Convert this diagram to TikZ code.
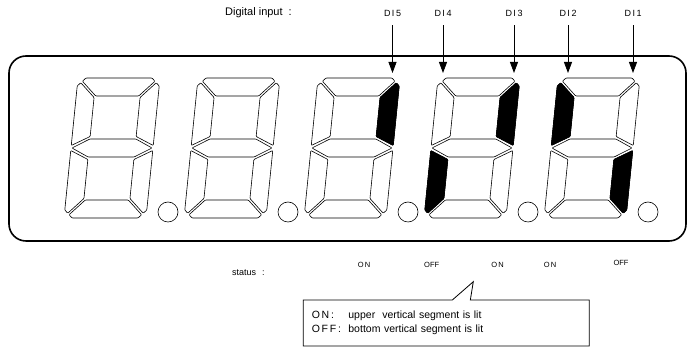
\documentclass[tikz,border=0pt]{standalone}
\usepackage{fontspec}
\setmainfont{Liberation Sans}
\usetikzlibrary{arrows.meta}
\usetikzlibrary{shapes.callouts}
\tikzset{
  segmento/.style={draw, line width=0.6pt, rounded corners=0.8pt, fill=white},
  encendido/.style={fill=black},
  punto/.style={circle, draw, line width=0.6pt, minimum size=20pt, inner sep=0pt},
  marco/.style={draw, line width=1.6pt, rounded corners=17pt},
  flecha/.style={-{Triangle[length=11pt,width=8pt]}, line width=0.8pt, shorten <=9pt},
  etiqueta/.style={font=\fontsize{9}{10}\selectfont, inner sep=0pt},
  estado/.style={font=\fontsize{7.5}{9}\selectfont, inner sep=0pt},
  texto/.style={font=\fontsize{11}{13}\selectfont, inner sep=0pt},
  nota/.style={
    rectangle callout, draw, line width=0.8pt, fill=white,
    minimum width=286pt, minimum height=46pt, text width=269pt, inner xsep=8.5pt,
    align=left, callout pointer width=18pt, font=\fontsize{10.5}{14}\selectfont
  }
}
\newcommand{\segA}[1]{\draw[segmento,#1] (8,140) -- (74,140) -- (77.25,136.75) -- (62.5,122) -- (19.5,122) -- (4.75,136.75) -- cycle;}
\newcommand{\segB}[1]{\draw[segmento,#1] (82,132) -- (78.75,135.25) -- (64,120.5) -- (64,81.5) -- (82,72.5) -- cycle;}
\newcommand{\segC}[1]{\draw[segmento,#1] (82,8) -- (78.75,4.75) -- (64,19.5) -- (64,58.5) -- (82,67.5) -- cycle;}
\newcommand{\segD}[1]{\draw[segmento,#1] (8,0) -- (74,0) -- (77.25,3.25) -- (62.5,18) -- (19.5,18) -- (4.75,3.25) -- cycle;}
\newcommand{\segE}[1]{\draw[segmento,#1] (0,8) -- (3.25,4.75) -- (18,19.5) -- (18,58.5) -- (0,67.5) -- cycle;}
\newcommand{\segF}[1]{\draw[segmento,#1] (0,132) -- (3.25,135.25) -- (18,120.5) -- (18,81.5) -- (0,72.5) -- cycle;}
\newcommand{\segG}[1]{\draw[segmento,#1] (1,70) -- (18,79) -- (64,79) -- (81,70) -- (64,61) -- (18,61) -- cycle;}
\newcommand{\cifra}{\segA{}\segB{}\segC{}\segD{}\segE{}\segF{}\segG{}}

\begin{document}
\begin{tikzpicture}[x=1pt, y=1pt]
  \useasboundingbox (0,0) rectangle (687,347);
  \draw[marco] (9,106) rectangle (686,291);

  \foreach \k/\ox in {1/64,2/184,3/304,4/424,5/544} {
    \begin{scope}[shift={(\ox,129)}, xslant=0.1]
      \cifra
    \end{scope}
    \node[punto] (p\k) at (\ox+104,135) {};
  }
  % segmentos encendidos
  \begin{scope}[shift={(304,129)}, xslant=0.1]
    \segB{encendido}
  \end{scope}
  \begin{scope}[shift={(424,129)}, xslant=0.1]
    \segB{encendido}
    \segE{encendido}
  \end{scope}
  \begin{scope}[shift={(544,129)}, xslant=0.1]
    \segF{encendido}
    \segC{encendido}
  \end{scope}

  \node[texto, anchor=base west] (titulo) at (225,331) {Digital input\hspace{6pt}:};
  \foreach \n/\x in {5/392.5,4/443,3/514,2/568,1/633} {
    \node[etiqueta] (di\n) at (\x,334) {D\,I\,\n};
    \coordinate (t\n) at (\x,274);
    \draw[flecha] (di\n) -- (t\n);
  }

  \node[texto, font=\fontsize{9}{11}\selectfont, anchor=base west] (estado) at (232,71) {status\hspace{6pt}:};
  \node[estado] (s5) at (364,82) {O\,N};
  \node[estado] (s4) at (431.7,82) {OFF};
  \node[estado] (s3) at (497.5,82) {O\,N};
  \node[estado] (s2) at (550,82) {O\,N};
  \node[estado] (s1) at (621,84) {OFF};

  \coordinate (punta) at (473.3,65.3);
  \node[nota, callout absolute pointer={(punta)}] (leyenda) at (446.3,24) {%
    \begin{tabular}{@{}p{36.6pt}@{}l@{}}
      O\,N\,: & upper\ \ vertical segment is lit\\
      O\,F\,F\,: & bottom vertical segment is lit
    \end{tabular}};
\end{tikzpicture}
\end{document}
